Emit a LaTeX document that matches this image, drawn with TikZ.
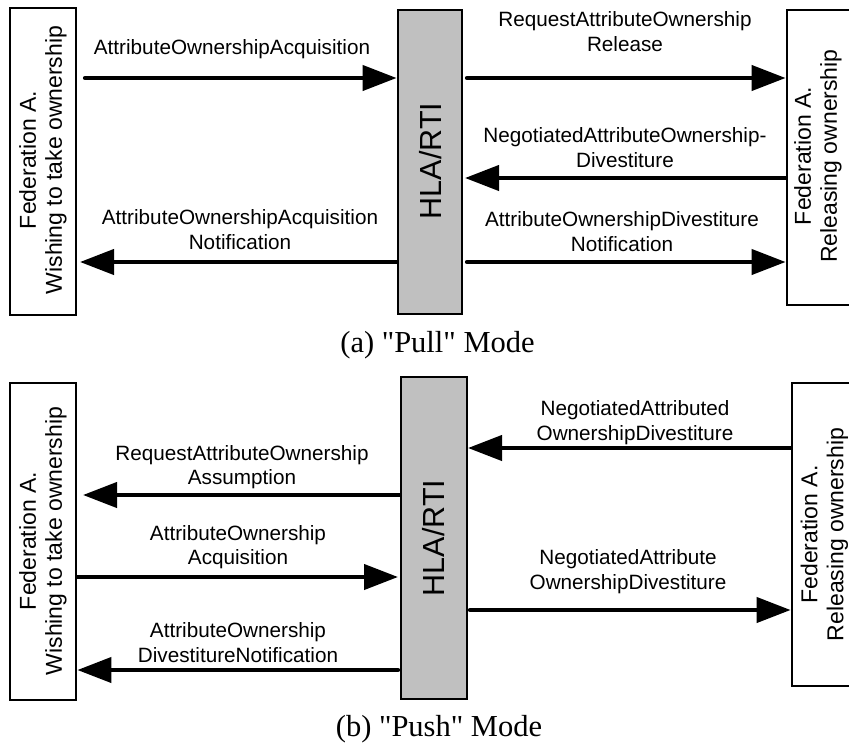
\documentclass[tikz,border=0pt]{standalone}
\usepackage{fontspec}
\setmainfont{Liberation Serif}[Ligatures=TeXOff]
\newfontfamily\arialfont{Liberation Sans}
\usetikzlibrary{arrows.meta}
\definecolor{hlagray}{RGB}{192,192,192}
\begin{document}
\begin{tikzpicture}[x=1pt,y=-1pt,
  boxsty/.style={draw, line width=2.8pt, fill=white, inner sep=0pt},
  hlasty/.style={draw, line width=2.8pt, fill=hlagray, inner sep=0pt},
  fedtext/.style={rotate=90, align=center, font=\arialfont\fontsize{23}{26}\selectfont, inner sep=0pt},
  hlatext/.style={rotate=90, font=\arialfont\fontsize{30.5}{34}\selectfont, inner sep=0pt},
  lbl/.style={align=center, font=\arialfont\fontsize{20.7}{24.5}\selectfont, inner sep=0pt},
  msg/.style={line width=4.2pt, line cap=round, -{Triangle[length=34pt,width=25pt]}},
  captionsty/.style={font=\fontsize{30.5}{36}\selectfont, inner sep=0pt, anchor=base}
]
\useasboundingbox (0,0) rectangle (849,745);
\clip (0,0) rectangle (849,745);

% ---------- (a) Pull mode ----------
\node[boxsty, minimum width=66pt, minimum height=307pt] (L1) at (43,161.5) {};
\node[hlasty, minimum width=64pt, minimum height=304pt] (H1) at (430,162) {};
\node[boxsty, minimum width=65pt, minimum height=295pt] (R1) at (819.5,157.5) {};
\node[fedtext] (L1t) at (43,160) {Federation A.\\Wishing to take ownership};
\node[hlatext] (H1t) at (431,161) {HLA/RTI};
\node[fedtext] (R1t) at (818,156) {Federation A.\\Releasing ownership};

\coordinate (a1s) at (85,78);
\coordinate (a2s) at (467,78);
\coordinate (a3e) at (465,178);
\coordinate (a4e) at (80,262);
\coordinate (a5s) at (467,262);
\draw[msg] (a1s) -- (a1s -| H1.west);
\draw[msg] (a2s) -- (a2s -| R1.west);
\draw[msg] (a3e -| R1.west) -- (a3e);
\draw[msg] (a4e -| H1.west) -- (a4e);
\draw[msg] (a5s) -- (a5s -| R1.west);

\node[lbl] (t1) at (232,49) {AttributeOwnershipAcquisition};
\node[lbl] (t2) at (625,31.5) {RequestAttributeOwnership\\Release};
\node[lbl] (t3) at (625,147.5) {NegotiatedAttributeOwnership-\\Divestiture};
\node[lbl] (t4) at (240,229.5) {AttributeOwnershipAcquisition\\Notification};
\node[lbl] (t5) at (622,231.5) {AttributeOwnershipDivestiture\\Notification};

\node[captionsty] (capA) at (437.5,352) {(a) "Pull" Mode};

% ---------- (b) Push mode ----------
\node[boxsty, minimum width=66pt, minimum height=317pt] (L2) at (43,541.5) {};
\node[hlasty, minimum width=66pt, minimum height=322pt] (H2) at (434,538) {};
\node[boxsty, minimum width=65pt, minimum height=303pt] (R2) at (824.5,534.5) {};
\node[fedtext] (L2t) at (43,541) {Federation A.\\Wishing to take ownership};
\node[hlatext] (H2t) at (434,538) {HLA/RTI};
\node[fedtext] (R2t) at (824.5,534.5) {Federation A.\\Releasing ownership};

\coordinate (b1e) at (468,448);
\coordinate (b2e) at (83,495);
\coordinate (b3e) at (398,577);
\coordinate (b4s) at (470,610);
\coordinate (b5s) at (398,670);
\draw[msg] (b1e -| R2.west) -- (b1e);
\draw[msg] (b2e -| H2.west) -- (b2e);
\draw[msg] (b3e -| L2.east) -- (b3e);
\draw[msg] (b4s) -- (b4s -| R2.west);
\draw[msg] (b5s) -- (b5s -| L2.east);

\node[lbl] (u1) at (635,422.5) {NegotiatedAttributed\\OwnershipDivestiture};
\node[lbl] (u2) at (242,467) {RequestAttributeOwnership\\Assumption};
\node[lbl] (u3) at (238,547) {AttributeOwnership\\Acquisition};
\node[lbl] (u4) at (628,571.5) {NegotiatedAttribute\\OwnershipDivestiture};
\node[lbl] (u5) at (238,642.5) {AttributeOwnership\\DivestitureNotification};

\node[captionsty] (capB) at (439,736) {(b) "Push" Mode};
\end{tikzpicture}
\end{document}
